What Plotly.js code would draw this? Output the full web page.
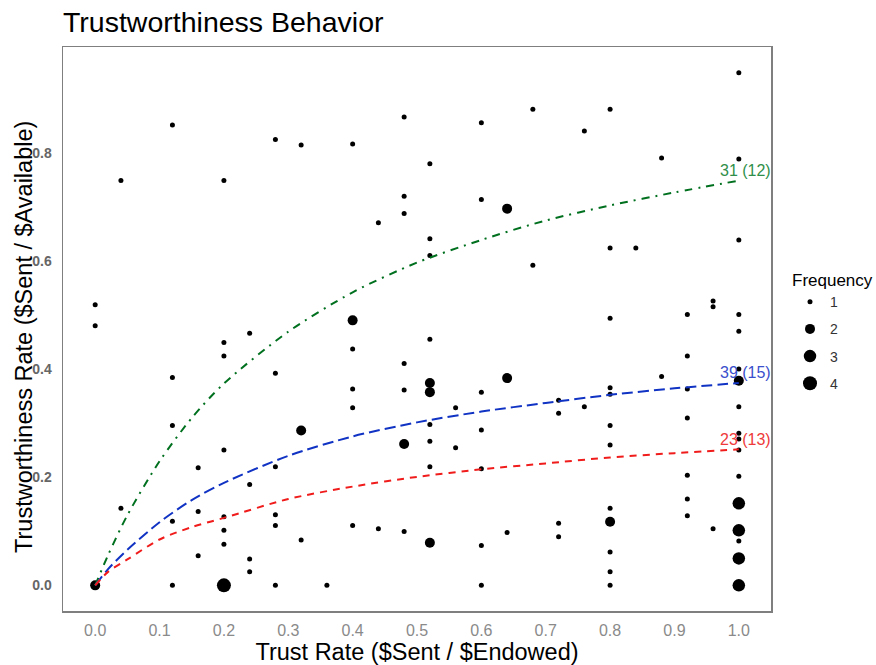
<!DOCTYPE html>
<html>
<head>
<meta charset="utf-8">
<script src="https://cdn.plot.ly/plotly-3.0.1.min.js"></script>
<style>html,body{margin:0;padding:0;background:#fff;}#chart{width:876px;height:665px;}</style>
</head>
<body>
<div id="chart"></div>
<script>
// Frequency 1 points
const f1x = [0.12,0.28,0.32,0.04,0.20,0.00,0.00,0.24,
  0.40,0.48,0.60,0.52,0.48,0.60,0.48,0.44,0.52,0.52,0.52,
  1.00,0.68,0.80,0.76,0.88,1.00,1.00,0.80,0.84,0.68,0.80,0.92,0.96,0.96,1.00,1.00,
  0.20,0.20,0.12,0.28,0.12,0.20,0.16,0.28,0.24,0.04,0.16,0.12,0.20,0.28,0.28,0.20,0.20,0.16,0.24,0.24,0.32,0.12,0.28,
  0.40,0.48,0.40,0.48,0.60,0.40,0.56,0.52,0.60,0.52,0.56,0.52,0.60,0.40,0.44,0.48,0.60,0.64,0.36,0.60,
  0.92,0.88,1.00,0.80,0.80,0.72,0.92,0.72,0.76,1.00,0.80,0.92,1.00,1.00,0.80,1.00,0.92,1.00,0.92,0.80,0.92,0.72,0.72,0.96,1.00,0.80,0.80,0.80];
const f1y = [0.853,0.826,0.816,0.750,0.750,0.520,0.481,0.467,
  0.818,0.868,0.857,0.781,0.721,0.715,0.689,0.672,0.642,0.611,0.456,
  0.950,0.882,0.882,0.842,0.792,0.790,0.640,0.625,0.625,0.593,0.495,0.502,0.527,0.516,0.502,0.471,
  0.450,0.425,0.385,0.393,0.296,0.251,0.218,0.220,0.187,0.143,0.137,0.119,0.127,0.131,0.111,0.102,0.076,0.055,0.049,0.025,0.084,0.000,0.000,
  0.438,0.411,0.364,0.362,0.358,0.329,0.329,0.298,0.288,0.267,0.255,0.220,0.216,0.111,0.105,0.100,0.074,0.098,0.000,0.000,
  0.425,0.387,0.401,0.366,0.354,0.343,0.364,0.319,0.331,0.331,0.296,0.310,0.282,0.271,0.260,0.251,0.204,0.202,0.160,0.143,0.129,0.115,0.090,0.105,0.082,0.062,0.025,0.000];
// Frequency 2 points
const f2x = [0.00,0.32,0.40,0.64,0.52,0.52,0.64,0.48,0.52,0.80,1.00];
const f2y = [0.000,0.287,0.491,0.698,0.375,0.358,0.384,0.262,0.079,0.118,0.379];
// Frequency 3 points
const f3x = [1.00,1.00,1.00,1.00];
const f3y = [0.152,0.102,0.050,0.000];
// Frequency 4 points
const f4x = [0.20];
const f4y = [0.000];

// Fitted curves
const curveX = [0,0.02,0.05,0.1,0.15,0.2,0.3,0.4,0.5,0.6,0.7,0.8,0.9,1.0];
const greenY = [0,0.056,0.13,0.23,0.31,0.374,0.47,0.543,0.598,0.64,0.676,0.704,0.728,0.75];
const blueY  = [0,0.03,0.066,0.117,0.158,0.19,0.24,0.276,0.302,0.322,0.338,0.353,0.365,0.375];
const redY   = [0,0.025,0.048,0.085,0.108,0.125,0.16,0.183,0.201,0.215,0.226,0.237,0.245,0.252];
const curveLabels = ["31 (12)","39 (15)","23 (13)"];
const freqNames = ["1","2","3","4"];
const xTicks = [0,0.1,0.2,0.3,0.4,0.5,0.6,0.7,0.8,0.9,1.0];
const yTicks = [0,0.2,0.4,0.6,0.8];
const yTitle = 'Trustworthiness Rate ($Sent / $Available)';

const FONT = "Liberation Sans, Arial, sans-serif";
const sizes = [5,10,12.5,14];
const ptsX = [f1x,f2x,f3x,f4x], ptsY = [f1y,f2y,f3y,f4y];
const traces = [];
for (let i=0;i<4;i++){
  traces.push({type:'scatter', mode:'markers', x:ptsX[i], y:ptsY[i], name:freqNames[i],
    legendgroup:'g'+i, marker:{color:'#000', size:sizes[i], line:{width:0}}, cliponaxis:false});
}
const lineCols = ['#00701f','#1133c4','#f01c1c'];
const lineYs = [greenY, blueY, redY];
const dashes = ['8px,6px,2px,6px','11px,5px','7px,6px'];
for (let i=0;i<3;i++){
  traces.push({type:'scatter', mode:'lines', x:curveX, y:lineYs[i], showlegend:false,
    line:{color:lineCols[i], width:2, dash:dashes[i], shape:'spline', smoothing:0.8}, hoverinfo:'skip'});
}
const textCols = ['#2f8f4a','#3a4fcc','#ee3a3a'];
const annotations = [];
for (let i=0;i<3;i++){
  const yy = lineYs[i][lineYs[i].length-1];
  annotations.push({x:curveX[curveX.length-1], y:yy, text:curveLabels[i], showarrow:false,
    xanchor:'center', yanchor:'middle', xshift:7, yshift:10,
    font:{family:FONT, size:16, color:textCols[i]}});
}
// y-axis title as a rotated annotation so it can sit exactly where the reference has it
annotations.push({xref:'paper', yref:'paper', x:0, y:0.5, text:yTitle, showarrow:false,
  textangle:-90, xanchor:'center', yanchor:'middle', xshift:-39, yshift:-8,
  font:{family:FONT, size:23.5, color:'#000'}});

const layout = {
  width:876, height:665,
  margin:{l:63, r:105, t:47, b:54},
  paper_bgcolor:'#fff', plot_bgcolor:'#fff',
  font:{family:FONT},
  title:{text:'Trustworthiness Behavior', x:63/876, xanchor:'left', xref:'container',
    y:1-22/665, yanchor:'middle', yref:'container', font:{family:FONT, size:28.5, color:'#000'}},
  xaxis:{range:[-0.05,1.05], tickvals:xTicks, tickformat:'.1f', showgrid:false, zeroline:false,
    showline:true, mirror:true, linecolor:'#7f7f7f', linewidth:1.5,
    ticks:'outside', ticklen:4, tickcolor:'rgba(0,0,0,0)',
    tickfont:{family:FONT, size:16, color:'#8a8a8a'},
    title:{text:'Trust Rate ($Sent / $Endowed)', font:{family:FONT, size:23.5, color:'#000'}, standoff:2}},
  yaxis:{range:[-0.0475,0.9975], tickvals:yTicks, tickformat:'.1f', showgrid:false, zeroline:false,
    showline:true, mirror:true, linecolor:'#7f7f7f', linewidth:1.5,
    ticks:'outside', ticklen:7, tickcolor:'rgba(0,0,0,0)',
    tickfont:{family:FONT, size:14, color:'#666', weight:'bold'}},
  showlegend:true,
  legend:{x:790/876, xref:'container', xanchor:'left', y:1-264/665, yref:'container', yanchor:'top',
    title:{text:'Frequency', font:{family:FONT, size:17, color:'#000'}},
    font:{family:FONT, size:14, color:'#333'}, traceorder:'grouped', tracegroupgap:6,
    bgcolor:'rgba(0,0,0,0)', itemclick:false},
  annotations:annotations
};
Plotly.newPlot('chart', traces, layout, {displayModeBar:false, staticPlot:true});
</script>
</body>
</html>
